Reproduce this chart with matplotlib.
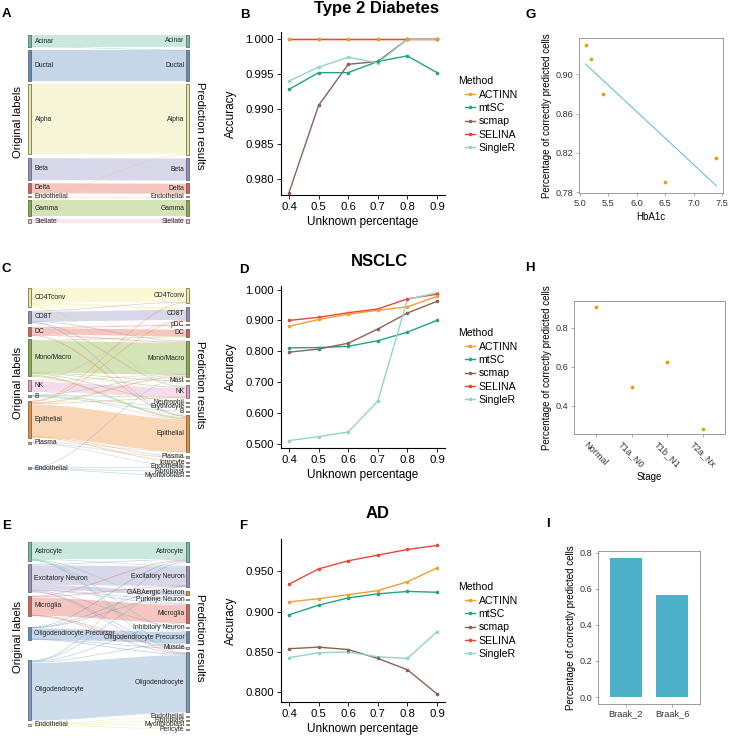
import numpy as np
import matplotlib
matplotlib.use("Agg")
import matplotlib.pyplot as plt
from matplotlib.patches import Rectangle
from matplotlib.lines import Line2D
from matplotlib.ticker import FormatStrFormatter

plt.rcParams['font.family'] = ['Liberation Sans', 'DejaVu Sans']

# ---------------- data ----------------
# sankey A (type 2 diabetes)
a_left = ['Acinar', 'Ductal', 'Alpha', 'Beta', 'Delta', 'Endothelial', 'Gamma', 'Stellate']
a_right = ['Acinar', 'Ductal', 'Alpha', 'Beta', 'Delta', 'Endothelial', 'Gamma', 'Stellate']
a_flows = [('Acinar', 'Acinar', 117), ('Acinar', 'Ductal', 3), ('Ductal', 'Ductal', 310),
           ('Alpha', 'Alpha', 700), ('Beta', 'Beta', 220), ('Delta', 'Delta', 100),
           ('Endothelial', 'Alpha', 4), ('Endothelial', 'Endothelial', 6),
           ('Gamma', 'Gamma', 160), ('Stellate', 'Stellate', 40)]

# sankey C (NSCLC)
c_left = ['CD4Tconv', 'CD8T', 'DC', 'Mono/Macro', 'NK', 'B', 'Epithelial', 'Plasma', 'Endothelial']
c_right = ['CD4Tconv', 'CD8T', 'pDC', 'DC', 'Mono/Macro', 'Mast', 'NK', 'Neutrophil', 'Erythrocyte',
           'B', 'Epithelial', 'Plasma', 'Ionocyte', 'Endothelial', 'Fibroblast', 'Myofibroblast']
c_flows = [('CD4Tconv', 'CD4Tconv', 140), ('CD4Tconv', 'CD8T', 25), ('CD4Tconv', 'NK', 10),
           ('CD4Tconv', 'Mono/Macro', 5), ('CD4Tconv', 'Epithelial', 5), ('CD4Tconv', 'Plasma', 5),
           ('CD8T', 'CD8T', 100), ('CD8T', 'CD4Tconv', 5), ('CD8T', 'NK', 10),
           ('CD8T', 'Mono/Macro', 3), ('CD8T', 'Epithelial', 2),
           ('DC', 'DC', 65), ('DC', 'pDC', 10), ('DC', 'Mono/Macro', 10), ('DC', 'Epithelial', 5),
           ('Mono/Macro', 'Mono/Macro', 320), ('Mono/Macro', 'DC', 10), ('Mono/Macro', 'Mast', 8),
           ('Mono/Macro', 'Epithelial', 20), ('Mono/Macro', 'Neutrophil', 8), ('Mono/Macro', 'NK', 4),
           ('NK', 'NK', 95), ('NK', 'CD8T', 8), ('NK', 'Mono/Macro', 4), ('NK', 'Epithelial', 3),
           ('B', 'B', 8), ('B', 'Erythrocyte', 5), ('B', 'NK', 4), ('B', 'Mono/Macro', 3),
           ('Epithelial', 'Epithelial', 325), ('Epithelial', 'Mono/Macro', 15),
           ('Epithelial', 'CD4Tconv', 5), ('Epithelial', 'Ionocyte', 8), ('Epithelial', 'Plasma', 5),
           ('Epithelial', 'NK', 7), ('Epithelial', 'CD8T', 5),
           ('Plasma', 'Plasma', 12), ('Plasma', 'Epithelial', 5), ('Plasma', 'Endothelial', 3),
           ('Endothelial', 'Endothelial', 8), ('Endothelial', 'Fibroblast', 5),
           ('Endothelial', 'Myofibroblast', 5), ('Endothelial', 'Mono/Macro', 2)]

# sankey E (AD)
e_left = ['Astrocyte', 'Excitatory Neuron', 'Microglia', 'Oligodendrocyte Precursor',
          'Oligodendrocyte', 'Endothelial']
e_right = ['Astrocyte', 'Excitatory Neuron', 'GABAergic Neuron', 'Purkinje Neuron', 'Microglia',
           'Inhibitory Neuron', 'Oligodendrocyte Precursor', 'Muscle', 'Oligodendrocyte',
           'Endothelial', 'Fibroblast', 'Myofibroblast', 'Pericyte']
e_flows = [('Astrocyte', 'Astrocyte', 175), ('Astrocyte', 'Oligodendrocyte', 5),
           ('Astrocyte', 'Oligodendrocyte Precursor', 3), ('Astrocyte', 'Excitatory Neuron', 3),
           ('Astrocyte', 'Microglia', 2), ('Astrocyte', 'Muscle', 2),
           ('Excitatory Neuron', 'Excitatory Neuron', 195), ('Excitatory Neuron', 'GABAergic Neuron', 45),
           ('Excitatory Neuron', 'Purkinje Neuron', 10), ('Excitatory Neuron', 'Inhibitory Neuron', 8),
           ('Excitatory Neuron', 'Microglia', 5), ('Excitatory Neuron', 'Oligodendrocyte', 7),
           ('Excitatory Neuron', 'Astrocyte', 5), ('Excitatory Neuron', 'Muscle', 5),
           ('Microglia', 'Microglia', 180), ('Microglia', 'Astrocyte', 8),
           ('Microglia', 'Excitatory Neuron', 4), ('Microglia', 'Oligodendrocyte', 4),
           ('Microglia', 'Muscle', 4),
           ('Oligodendrocyte Precursor', 'Oligodendrocyte Precursor', 110),
           ('Oligodendrocyte Precursor', 'Excitatory Neuron', 4),
           ('Oligodendrocyte Precursor', 'Oligodendrocyte', 5),
           ('Oligodendrocyte Precursor', 'Muscle', 3), ('Oligodendrocyte Precursor', 'Astrocyte', 3),
           ('Oligodendrocyte Precursor', 'GABAergic Neuron', 2),
           ('Oligodendrocyte', 'Oligodendrocyte', 575), ('Oligodendrocyte', 'Astrocyte', 12),
           ('Oligodendrocyte', 'Excitatory Neuron', 4), ('Oligodendrocyte', 'Microglia', 4),
           ('Oligodendrocyte', 'Oligodendrocyte Precursor', 8),
           ('Endothelial', 'Endothelial', 5), ('Endothelial', 'Fibroblast', 5),
           ('Endothelial', 'Myofibroblast', 5), ('Endothelial', 'Pericyte', 5)]

# accuracy vs unknown percentage
pct = [0.4, 0.5, 0.6, 0.7, 0.8, 0.9]
methods = ['ACTINN', 'mtSC', 'scmap', 'SELINA', 'SingleR']
t2d_acc = {'ACTINN': [1.0, 1.0, 1.0, 1.0, 1.0, 1.0],
           'mtSC': [0.9928, 0.9952, 0.9952, 0.9968, 0.9976, 0.9952],
           'scmap': [0.9780, 0.9905, 0.9964, 0.9968, 1.0, 1.0],
           'SELINA': [1.0, 1.0, 1.0, 1.0, 1.0, 1.0],
           'SingleR': [0.9940, 0.9960, 0.9974, 0.9966, 1.0, 1.0]}
nsclc_acc = {'ACTINN': [0.881, 0.903, 0.920, 0.933, 0.944, 0.978],
             'mtSC': [0.811, 0.812, 0.816, 0.834, 0.862, 0.900],
             'scmap': [0.797, 0.807, 0.826, 0.872, 0.924, 0.962],
             'SELINA': [0.900, 0.910, 0.925, 0.937, 0.970, 0.985],
             'SingleR': [0.510, 0.523, 0.538, 0.638, 0.968, 0.990]}
ad_acc = {'ACTINN': [0.912, 0.916, 0.921, 0.926, 0.937, 0.954],
          'mtSC': [0.896, 0.908, 0.917, 0.922, 0.925, 0.924],
          'scmap': [0.854, 0.856, 0.853, 0.842, 0.828, 0.798],
          'SELINA': [0.934, 0.953, 0.963, 0.970, 0.977, 0.982],
          'SingleR': [0.843, 0.849, 0.850, 0.844, 0.842, 0.875]}

# G, H, I
hba1c = [5.1, 5.2, 5.4, 6.5, 7.4]
hba1c_correct = [0.930, 0.916, 0.880, 0.790, 0.815]
stages = ['Normal', 'T1a_N0', 'T1b_N1', 'T2a_Nx']
stage_correct = [0.906, 0.494, 0.626, 0.282]
braak = ['Braak_2', 'Braak_6']
braak_correct = [0.770, 0.567]

# ---------------- styles ----------------
mcol = {'ACTINN': '#F0A032', 'mtSC': '#22A384', 'scmap': '#8B6355',
        'SELINA': '#E8473A', 'SingleR': '#93D5C4'}
a_col = {'Acinar': '#6BBFA6', 'Ductal': '#5B8CC0', 'Alpha': '#EBE892', 'Beta': '#928DC3',
         'Delta': '#E45A4C', 'Endothelial': '#D9D27A', 'Gamma': '#84AF34', 'Stellate': '#F4B5D4'}
c_col = {'CD4Tconv': '#F1EB87', 'CD8T': '#928DC3', 'DC': '#E45A4C', 'Mono/Macro': '#84AF34',
         'NK': '#E89BC6', 'B': '#5EB8A8', 'Epithelial': '#EE8A2B', 'Plasma': '#B5B5B5',
         'Endothelial': '#7BA7D4'}
e_col = {'Astrocyte': '#6BBFA6', 'Excitatory Neuron': '#928DC3', 'GABAergic Neuron': '#EE8A2B',
         'Microglia': '#E45A4C', 'Oligodendrocyte Precursor': '#5B8CC0',
         'Oligodendrocyte': '#6F9CC8', 'Endothelial': '#EBE892'}

W, H = 729, 737
fig = plt.figure(figsize=(W / 100, H / 100), dpi=100)


def px_axes(x0, y0, x1, y1):
    return fig.add_axes([x0 / W, 1 - y1 / H, (x1 - x0) / W, (y1 - y0) / H])


def ftext(x, y, s, **kw):
    fig.text(x / W, 1 - y / H, s, **kw)


# overlay axes in pixel units for the sankeys
bg = fig.add_axes([0, 0, 1, 1])
bg.set_xlim(0, W)
bg.set_ylim(H, 0)
bg.axis('off')


def sankey(ax, flows, left, right, colors, top, gap_l, gap_r, extra_l={}, extra_r={},
           scale=0.1, xl=28.5, xr=186.5, bw=3):
    lsize = {n: sum(v for s, t, v in flows if s == n) for n in left}
    rsize = {n: sum(v for s, t, v in flows if t == n) for n in right}

    def stack(order, size, gap, extra):
        pos, y = {}, top
        for i, n in enumerate(order):
            if i:
                y += gap
            y += extra.get(n, 0)
            pos[n] = y
            y += size[n] * scale
        return pos

    lpos = stack(left, lsize, gap_l, extra_l)
    rpos = stack(right, rsize, gap_r, extra_r)
    idx = range(len(flows))
    src, tgt = {}, {}
    cur = dict(lpos)
    for i in sorted(idx, key=lambda i: (left.index(flows[i][0]), right.index(flows[i][1]))):
        src[i] = cur[flows[i][0]]
        cur[flows[i][0]] += flows[i][2] * scale
    cur = dict(rpos)
    for i in sorted(idx, key=lambda i: (right.index(flows[i][1]), left.index(flows[i][0]))):
        tgt[i] = cur[flows[i][1]]
        cur[flows[i][1]] += flows[i][2] * scale

    t = np.linspace(0, 1, 80)
    s = 3 * t ** 2 - 2 * t ** 3
    x = xl + bw + (xr - xl - bw) * t
    for i in idx:
        h = flows[i][2] * scale
        c = colors.get(flows[i][0], '#BBBBBB')
        yt = src[i] + (tgt[i] - src[i]) * s
        if h < 1:
            ax.plot(x, yt + h / 2, color=c, lw=0.5, alpha=0.45, solid_capstyle='butt')
        else:
            ax.fill_between(x, yt, yt + h, color=c, alpha=0.35, lw=0)

    for order, pos, size, xb, side in [(left, lpos, lsize, xl, 'l'), (right, rpos, rsize, xr, 'r')]:
        for n in order:
            h = size[n] * scale
            hb = max(h, 1.0)
            yc = pos[n] + h / 2
            ax.add_patch(Rectangle((xb, yc - hb / 2), bw, hb, facecolor=colors.get(n, '#CCCCCC'),
                                   edgecolor='#555555', lw=0.5))
            if side == 'l':
                ax.text(xb + bw + 3, yc, n, fontsize=4.9, va='center', ha='left', color='#222222')
            else:
                ax.text(xb - 2, yc, n, fontsize=4.9, va='center', ha='right', color='#222222')


sankey(bg, a_flows, a_left, a_right, a_col, top=35, gap_l=3.2, gap_r=3.2)
sankey(bg, c_flows, c_left, c_right, c_col, top=288, gap_l=3.8, gap_r=3.8,
       extra_l={'Endothelial': 20})
sankey(bg, e_flows, e_left, e_right, e_col, top=541.7, gap_l=3.6, gap_r=3.8,
       extra_l={'Oligodendrocyte Precursor': 7.5, 'Oligodendrocyte': 16.4})

for yc_l, yc_r in [(122, 126), (383, 385), (637, 638)]:
    bg.text(18, yc_l, 'Original labels', rotation=90, fontsize=8.2, ha='center', va='center')
    bg.text(200, yc_r, 'Prediction results', rotation=-90, fontsize=8.2, ha='center', va='center')


# ---------------- accuracy line charts ----------------
def acc_panel(ax, data, ylim, yticks):
    for m in methods:
        ax.plot(pct, data[m], color=mcol[m], lw=1.0, zorder=2)
    for m in reversed(methods):
        ax.plot(pct, data[m], 'o', ms=1.6, color=mcol[m], zorder=3)
    ax.set_xlim(0.373, 0.927)
    ax.set_ylim(*ylim)
    ax.set_xticks(pct)
    ax.set_yticks(yticks)
    ax.yaxis.set_major_formatter(FormatStrFormatter('%.3f'))
    for sp in ['top', 'right']:
        ax.spines[sp].set_visible(False)
    for sp in ['left', 'bottom']:
        ax.spines[sp].set_linewidth(0.8)
    ax.tick_params(labelsize=8.2, length=3, width=0.6, pad=2)
    ax.set_xlabel('Unknown percentage', fontsize=8.5, labelpad=3)
    ax.set_ylabel('Accuracy', fontsize=8.5, labelpad=6)


axB = px_axes(281, 32, 445, 195)
acc_panel(axB, t2d_acc, (0.97765, 1.00103), [0.980, 0.985, 0.990, 0.995, 1.000])
axD = px_axes(281, 286, 445, 448)
acc_panel(axD, nsclc_acc, (0.486, 1.0117), [0.5, 0.6, 0.7, 0.8, 0.9, 1.0])
axF = px_axes(281, 539, 445, 702)
acc_panel(axF, ad_acc, (0.788, 0.990), [0.80, 0.85, 0.90, 0.95])

handles = [Line2D([], [], color=mcol[m], lw=1.0, marker='o', ms=1.6) for m in methods]
for ax, ytitle, yfirst in [(axB, 81, 90), (axD, 333, 342), (axF, 587, 596)]:
    ftext(458, ytitle, 'Method', fontsize=7.6, va='center', ha='left')
    ax.legend(handles, methods, loc='upper left', bbox_to_anchor=(465 / W, 1 - yfirst / H),
              bbox_transform=fig.transFigure, frameon=False, fontsize=7.6, handlelength=0.9,
              handletextpad=0.4, labelspacing=0.3, borderpad=0, borderaxespad=0)

ftext(377, 9, 'Type 2 Diabetes', fontsize=12, fontweight='bold', ha='center', va='center')
ftext(379, 261, 'NSCLC', fontsize=12, fontweight='bold', ha='center', va='center')
ftext(378, 513, 'AD', fontsize=12, fontweight='bold', ha='center', va='center')


# ---------------- G, H, I ----------------
def box_style(ax):
    for sp in ax.spines.values():
        sp.set_color('#8c8c8c')
        sp.set_linewidth(0.6)
    ax.tick_params(labelsize=6.6, length=2.5, width=0.5, color='#8c8c8c', labelcolor='#333333', pad=1.5)


axG = px_axes(579, 38, 723, 193)
axG.scatter(hba1c, hba1c_correct, s=7, color='#E69F00', zorder=3, lw=0)
coef = np.polyfit(hba1c, hba1c_correct, 1)
xs = np.array([min(hba1c), max(hba1c)])
axG.plot(xs, np.polyval(coef, xs), color='#56B4E9', lw=0.7)
axG.set_xlim(4.985, 7.515)
axG.set_ylim(0.779, 0.937)
axG.set_xticks([5.0, 5.5, 6.0, 6.5, 7.0, 7.5])
axG.set_yticks([0.78, 0.82, 0.86, 0.90])
axG.yaxis.set_major_formatter(FormatStrFormatter('%.2f'))
box_style(axG)
axG.set_xlabel('HbA1c', fontsize=7, labelpad=3)
axG.set_ylabel('Percentage of correctly predicted cells', fontsize=7, labelpad=3)

axH = px_axes(574, 301, 725, 434)
axH.scatter(range(len(stages)), stage_correct, s=7, color='#E69F00', zorder=3, lw=0)
axH.set_xlim(-0.6, len(stages) - 0.4)
axH.set_ylim(0.255, 0.937)
axH.set_xticks(range(len(stages)))
axH.set_xticklabels(stages, rotation=-45, ha='center', va='top')
axH.set_yticks([0.4, 0.6, 0.8])
box_style(axH)
axH.set_xlabel('Stage', fontsize=7, labelpad=2)
axH.set_ylabel('Percentage of correctly predicted cells', fontsize=7, labelpad=3)

axI = px_axes(598, 551, 700, 704)
axI.bar(range(len(braak)), braak_correct, width=0.7, color='#4BB0C8')
axI.set_xlim(-0.6, len(braak) - 0.4)
axI.set_ylim(-0.0385, 0.8085)
axI.set_xticks(range(len(braak)))
axI.set_xticklabels(braak)
axI.set_yticks([0.0, 0.2, 0.4, 0.6, 0.8])
axI.yaxis.set_major_formatter(FormatStrFormatter('%.1f'))
box_style(axI)
axI.set_ylabel('Percentage of correctly predicted cells', fontsize=7, labelpad=3)

# panel letters
for x, y, s in [(2, 14, 'A'), (2, 269, 'C'), (2, 526, 'E'), (240, 15.5, 'B'), (239, 270, 'D'),
                (239, 526, 'F'), (525, 15, 'G'), (525, 268, 'H'), (546, 524, 'I')]:
    ftext(x, y, s, fontsize=9.5, fontweight='bold', ha='left', va='center')

fig.savefig('out.png', dpi=100)
